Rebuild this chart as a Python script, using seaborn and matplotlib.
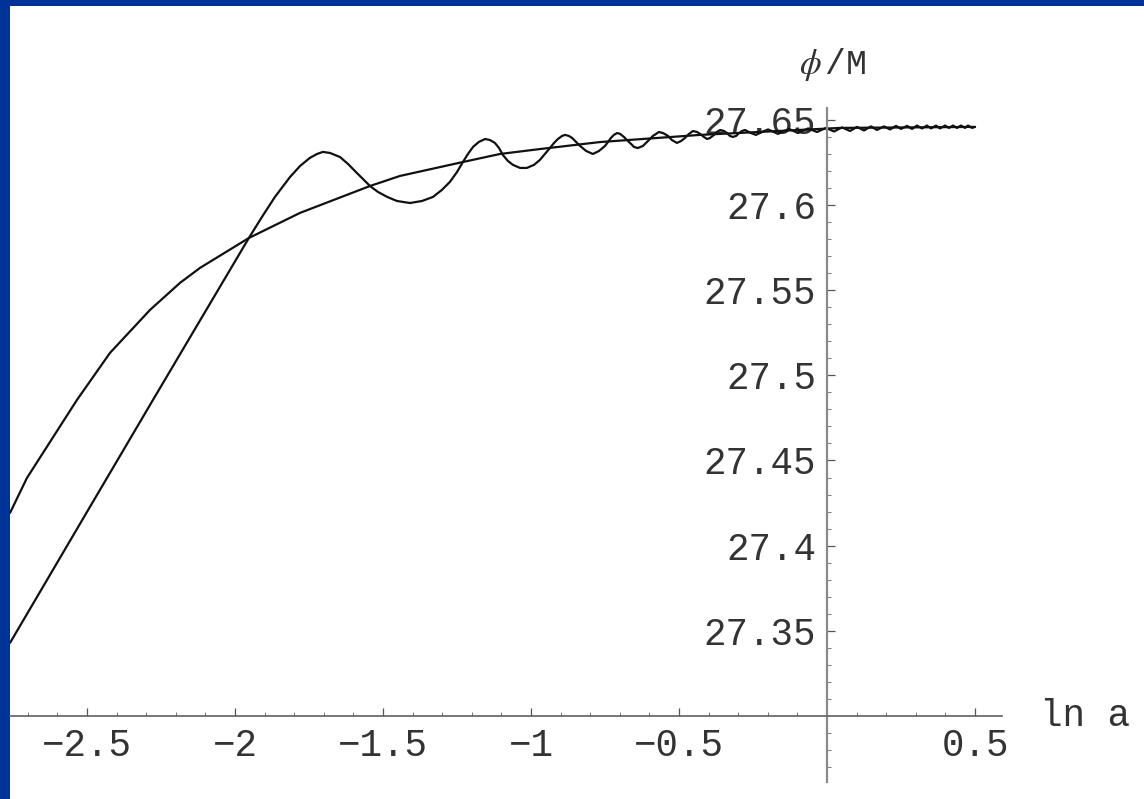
import matplotlib
matplotlib.use('Agg')
import matplotlib.pyplot as plt
from matplotlib.patches import Rectangle
import pandas as pd
import seaborn as sns

# smooth (non-oscillating) solution
smooth_lna = [-2.7601, -2.7027, -2.5338, -2.4223, -2.2872, -2.1858, -2.1182, -1.9527,
              -1.7804, -1.5439, -1.4426, -1.2297, -1.1047, -0.9696, -0.7669, -0.4291,
              0.0439, 0.5]
smooth_phi = [27.4192, 27.4398, 27.4856, 27.5132, 27.5384, 27.5543, 27.5631, 27.5807,
              27.5954, 27.6112, 27.6171, 27.6253, 27.6300, 27.6329, 27.6370, 27.6412,
              27.6453, 27.6459]

# oscillating solution
osc_lna = [-2.760, -2.500, -2.277, -2.057, -1.953, -1.909, -1.865, -1.814, -1.780, -1.747,
           -1.723, -1.703, -1.679, -1.645, -1.618, -1.588, -1.564, -1.544, -1.517, -1.486,
           -1.453, -1.409, -1.368, -1.331, -1.301, -1.274, -1.250, -1.230, -1.213, -1.196,
           -1.176, -1.155, -1.139, -1.122, -1.108, -1.095, -1.078, -1.061, -1.037, -1.014,
           -0.990, -0.970, -0.953, -0.936, -0.922, -0.909, -0.895, -0.885, -0.872, -0.861,
           -0.848, -0.834, -0.814, -0.791, -0.770, -0.750, -0.740, -0.730, -0.720, -0.709,
           -0.699, -0.686, -0.676, -0.662, -0.652, -0.639, -0.622, -0.605, -0.588, -0.568,
           -0.554, -0.537, -0.524, -0.507, -0.493, -0.480, -0.466, -0.453, -0.439, -0.429,
           -0.416, -0.405, -0.395, -0.382, -0.372, -0.361, -0.348, -0.338, -0.328, -0.318,
           -0.307, -0.297, -0.287, -0.277, -0.257, -0.240, -0.220, -0.199, -0.1655, -0.1284,
           -0.0980, -0.0642, -0.0338, -0.0034, 0.0236, 0.0507, 0.0777, 0.1014, 0.1250, 0.1486,
           0.1689, 0.1926, 0.2128, 0.2331, 0.2500, 0.2703, 0.2872, 0.3041, 0.3209, 0.3378,
           0.3514, 0.3682, 0.3818, 0.3986, 0.4122, 0.4257, 0.4392, 0.4527, 0.4662, 0.4764,
           0.4899, 0.5000]
osc_phi = [27.3429, 27.4198, 27.4856, 27.5501, 27.5807, 27.5930, 27.6048, 27.6165, 27.6230, 27.6277,
           27.6300, 27.6312, 27.6306, 27.6282, 27.6241, 27.6188, 27.6147, 27.6112, 27.6077, 27.6048,
           27.6024, 27.6012, 27.6024, 27.6048, 27.6089, 27.6136, 27.6194, 27.6253, 27.6300, 27.6341,
           27.6371, 27.6388, 27.6382, 27.6365, 27.6335, 27.6294, 27.6259, 27.6236, 27.6218, 27.6218,
           27.6236, 27.6265, 27.6300, 27.6335, 27.6365, 27.6388, 27.6406, 27.6412, 27.6406, 27.6394,
           27.6371, 27.6347, 27.6318, 27.6300, 27.6318, 27.6347, 27.6371, 27.6394, 27.6412, 27.6423,
           27.6418, 27.6400, 27.6382, 27.6359, 27.6341, 27.6335, 27.6347, 27.6376, 27.6406, 27.6429,
           27.6423, 27.6406, 27.6382, 27.6365, 27.6376, 27.6394, 27.6418, 27.6435, 27.6429, 27.6418,
           27.6400, 27.6388, 27.6394, 27.6412, 27.6429, 27.6441, 27.6435, 27.6423, 27.6406, 27.6400,
           27.6406, 27.6423, 27.6435, 27.6441, 27.6423, 27.6412, 27.6429, 27.6444, 27.6418, 27.6447,
           27.6423, 27.6450, 27.6429, 27.6453, 27.6432, 27.6456, 27.6435, 27.6459, 27.6438, 27.6462,
           27.6441, 27.6462, 27.6444, 27.6465, 27.6447, 27.6465, 27.6447, 27.6467, 27.6450, 27.6467,
           27.6450, 27.6467, 27.6450, 27.6467, 27.6453, 27.6467, 27.6453, 27.6467, 27.6453, 27.6467,
           27.6453, 27.6459]

x_ticks = [-2.5, -2, -1.5, -1, -0.5, 0.5]
x_labels = ['\u22122.5', '\u22122', '\u22121.5', '\u22121', '\u22120.5', '0.5']
y_ticks = [27.35, 27.4, 27.45, 27.5, 27.55, 27.6, 27.65]
y_labels = ['27.35', '27.4', '27.45', '27.5', '27.55', '27.6', '27.65']
x_minor = [-2.7, -2.6, -2.4, -2.3, -2.2, -2.1, -1.9, -1.8, -1.7, -1.6, -1.4, -1.3, -1.2,
           -1.1, -0.9, -0.8, -0.7, -0.6, -0.4, -0.3, -0.2, -0.1, 0.1, 0.2, 0.3, 0.4]
y_minor = [27.27, 27.28, 27.29, 27.31, 27.32, 27.33, 27.34, 27.36, 27.37, 27.38, 27.39,
           27.41, 27.42, 27.43, 27.44, 27.46, 27.47, 27.48, 27.49, 27.51, 27.52, 27.53,
           27.54, 27.56, 27.57, 27.58, 27.59, 27.61, 27.62, 27.63, 27.64]

sns.set_theme(style='white')
plt.rcParams['font.family'] = ['Liberation Mono', 'DejaVu Sans Mono']
plt.rcParams['mathtext.fontset'] = 'stix'

W, H = 1144, 799
fig = plt.figure(figsize=(W / 100, H / 100), dpi=100, facecolor='#003399')
fig.add_artist(Rectangle((10 / W, 0), 1 - 10 / W, 793 / H, transform=fig.transFigure,
                         facecolor='white', edgecolor='none', zorder=0))

ax = fig.add_axes([10 / W, 17 / H, 992 / W, 674 / H])
ax.set_facecolor('white')

smooth_df = pd.DataFrame({'lna': smooth_lna, 'phi': smooth_phi})
osc_df = pd.DataFrame({'lna': osc_lna, 'phi': osc_phi})
sns.lineplot(data=smooth_df, x='lna', y='phi', color='#111111', lw=1.6,
             estimator=None, sort=False, ax=ax)
sns.lineplot(data=osc_df, x='lna', y='phi', color='#111111', lw=1.6,
             estimator=None, sort=False, ax=ax)

ax.set_xlim(-2.7601, 0.5912)
ax.set_ylim(27.2612, 27.6570)
ax.set_xlabel('')
ax.set_ylabel('')

# Mathematica-like crossing axes
for side in ['top', 'right']:
    ax.spines[side].set_visible(False)
ax.spines['left'].set_position(('data', 0))
ax.spines['bottom'].set_position(('data', 27.3))
ax.spines['left'].set_color('#8a8a8a')
ax.spines['left'].set_linewidth(1.6)
ax.spines['bottom'].set_color('#606060')
ax.spines['bottom'].set_linewidth(1.2)

ax.set_xticks(x_ticks)
ax.set_xticklabels(x_labels)
ax.set_xticks(x_minor, minor=True)
ax.set_yticks(y_ticks)
ax.set_yticklabels(y_labels)
ax.set_yticks(y_minor, minor=True)

ax.tick_params(axis='both', which='both', bottom=True, left=True, top=False, right=False)
ax.tick_params(axis='both', which='major', direction='in', length=5.5, width=0.9,
               color='#555555', labelsize=27, labelcolor='#333333')
ax.tick_params(axis='both', which='minor', direction='in', length=3, width=0.7,
               color='#777777')
ax.tick_params(axis='x', which='major', pad=9)
ax.tick_params(axis='y', which='major', pad=8)

ax.text(0.7196, 27.3, 'ln a', fontsize=27, color='#333333', ha='left', va='center')
ax.text(0.02, 27.6823, r'$\phi\,$/M', fontsize=25, color='#333333', ha='center', va='center')

fig.savefig('out.png', dpi=100, facecolor=fig.get_facecolor())
